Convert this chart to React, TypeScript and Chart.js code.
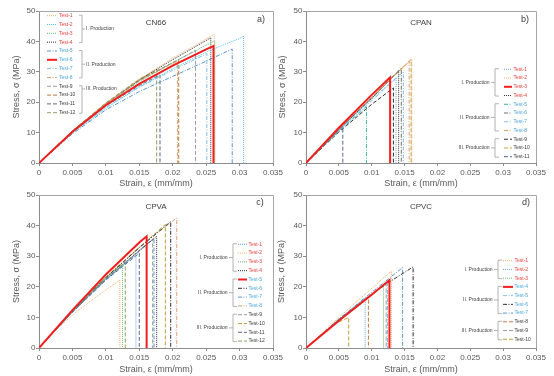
import { useEffect, useRef } from "react";
import { Chart, registerables } from "chart.js";
Chart.register(...registerables);

const FONT = "'Liberation Sans', Arial, sans-serif";

const xTickValues = [0, 0.005, 0.01, 0.015, 0.02, 0.025, 0.03, 0.035];
const xTickLabels = ["0", "0.005", "0.01", "0.015", "0.02", "0.025", "0.03", "0.035"];
const yTickValues = [0, 10, 20, 30, 40, 50];
const yTickLabels = ["0", "10", "20", "30", "40", "50"];
const xAxisTitle = "Strain, ε (mm/mm)";
const yAxisTitle = "Stress, σ (MPa)";

const panelTitles = ["CN66", "CPAN", "CPVA", "CPVC"];
const panelTags = ["a)", "b)", "c)", "d)"];
const groupLabels = ["I. Production", "II. Production", "III. Production"];

// ---------- CN66 ----------
const cn66Tests = ["Test-1", "Test-2", "Test-3", "Test-4", "Test-5", "Test-6", "Test-7", "Test-8", "Test-9", "Test-10", "Test-11", "Test-12"];
const cn66Groups = [4, 4, 4];
const cn66Strain = [
  [0, 0.005, 0.01, 0.015, 0.02, 0.025, 0.0262, 0.0262],
  [0, 0.005, 0.01, 0.015, 0.02, 0.025, 0.03, 0.0306, 0.0306],
  [0, 0.005, 0.01, 0.015, 0.02, 0.025, 0.0263, 0.0263],
  [0, 0.005, 0.01, 0.015, 0.02, 0.025, 0.0257, 0.0257],
  [0, 0.005, 0.01, 0.015, 0.02, 0.025, 0.0289, 0.0289],
  [0, 0.005, 0.01, 0.015, 0.02, 0.025, 0.0261, 0.0261],
  [0, 0.005, 0.01, 0.015, 0.02, 0.0251, 0.0251],
  [0, 0.005, 0.01, 0.015, 0.0207, 0.0207],
  [0, 0.005, 0.01, 0.015, 0.02, 0.0234, 0.0234],
  [0, 0.005, 0.01, 0.015, 0.0209, 0.0209],
  [0, 0.005, 0.01, 0.015, 0.0181, 0.0181],
  [0, 0.005, 0.01, 0.015, 0.0176, 0.0176],
];
const cn66Stress = [
  [0, 10.5, 19.5, 27.5, 34.5, 40.8, 42.3, 0],
  [0, 9.8, 18, 25, 31, 36.5, 41, 41.7, 0],
  [0, 10.4, 19.3, 26.8, 33, 38.8, 40.2, 0],
  [0, 10.5, 19.5, 27.3, 34, 40.3, 41.2, 0],
  [0, 9.6, 17.5, 23.5, 28.5, 33.5, 37.5, 0],
  [0, 10.3, 19, 26, 32, 37.4, 38.5, 0],
  [0, 10, 18.3, 25, 30.5, 36, 0],
  [0, 10.5, 19.6, 27.3, 33.5, 0],
  [0, 10.4, 19.4, 27, 33, 37, 0],
  [0, 10.5, 19.6, 27.4, 34, 0],
  [0, 10.3, 18.8, 25.5, 29, 0],
  [0, 10.6, 19.8, 27.6, 30.8, 0],
];

// ---------- CPAN ----------
const cpanTests = ["Test-1", "Test-2", "Test-3", "Test-4", "Test-5", "Test-6", "Test-7", "Test-8", "Test-9", "Test-10", "Test-11"];
const cpanGroups = [4, 4, 3];
const cpanStrain = [
  [0, 0.005, 0.01, 0.0137, 0.0137],
  [0, 0.005, 0.01, 0.0161, 0.0161],
  [0, 0.005, 0.01, 0.0128, 0.0128],
  [0, 0.005, 0.01, 0.0141, 0.0141],
  [0, 0.005, 0.0092, 0.0092],
  [0, 0.005, 0.01, 0.0145, 0.0145],
  [0, 0.005, 0.01, 0.0148, 0.0148],
  [0, 0.005, 0.01, 0.0157, 0.0157],
  [0, 0.005, 0.01, 0.0133, 0.0133],
  [0, 0.005, 0.01, 0.016, 0.016],
  [0, 0.0056, 0.0056],
];
const cpanStress = [
  [0, 10.9, 21, 28, 0],
  [0, 11.2, 21.7, 34, 0],
  [0, 11.6, 22.4, 28.2, 0],
  [0, 11, 21.3, 30.3, 0],
  [0, 10.5, 18.5, 0],
  [0, 11, 21.4, 31.2, 0],
  [0, 10.6, 20.5, 30, 0],
  [0, 11.2, 21.6, 33.6, 0],
  [0, 10.2, 19.3, 24.7, 0],
  [0, 11.1, 21.5, 34, 0],
  [0, 12, 0],
];

// ---------- CPVA ----------
const cpvaTests = ["Test-1", "Test-2", "Test-3", "Test-4", "Test-5", "Test-6", "Test-7", "Test-8", "Test-9", "Test-10", "Test-11", "Test-12"];
const cpvaGroups = [4, 4, 4];
const cpvaStrain = [
  [0, 0.005, 0.01, 0.0145, 0.0145],
  [0, 0.0025, 0.005, 0.0075, 0.01, 0.0121, 0.0121],
  [0, 0.005, 0.01, 0.0125, 0.0125],
  [0, 0.005, 0.01, 0.015, 0.0176, 0.0176],
  [0, 0.005, 0.01, 0.015, 0.0161, 0.0161],
  [0, 0.005, 0.01, 0.015, 0.0197, 0.0197],
  [0, 0.005, 0.01, 0.015, 0.0172, 0.0172],
  [0, 0.005, 0.01, 0.015, 0.02, 0.0206, 0.0206],
  [0, 0.005, 0.01, 0.015, 0.017, 0.017],
  [0, 0.005, 0.01, 0.015, 0.0189, 0.0189],
  [0, 0.005, 0.01, 0.015, 0.015],
  [0, 0.005, 0.01, 0.0129, 0.0129],
];
const cpvaStress = [
  [0, 11.8, 22.5, 30.4, 0],
  [0, 5.8, 10.8, 15, 19, 22.2, 0],
  [0, 12, 23, 27.3, 0],
  [0, 11.8, 22.5, 31.8, 36.5, 0],
  [0, 12.4, 24, 34.5, 36.5, 0],
  [0, 12, 23, 32.8, 41.3, 0],
  [0, 11.7, 22.3, 31.6, 35.8, 0],
  [0, 12, 23.2, 33, 41.5, 42.5, 0],
  [0, 11.9, 22.6, 32, 35.6, 0],
  [0, 12, 23, 32.8, 40.4, 0],
  [0, 11.7, 22.2, 31, 0],
  [0, 12, 23, 28, 0],
];

// ---------- CPVC ----------
const cpvcTests = ["Test-1", "Test-2", "Test-3", "Test-4", "Test-5", "Test-6", "Test-7", "Test-8", "Test-9", "Test-10"];
const cpvcGroups = [3, 4, 3];
const cpvcStrain = [
  [0, 0.005, 0.01, 0.013, 0.013],
  [0, 0.005, 0.009, 0.009],
  [0, 0.005, 0.01, 0.0118, 0.0118],
  [0, 0.005, 0.01, 0.0127, 0.0127],
  [0, 0.005, 0.01, 0.0124, 0.0124],
  [0, 0.005, 0.01, 0.013, 0.0163, 0.0163],
  [0, 0.005, 0.01, 0.0147, 0.0147],
  [0, 0.005, 0.0095, 0.0095],
  [0, 0.005, 0.01, 0.0122, 0.0122],
  [0, 0.003, 0.0045, 0.0065, 0.0065],
];
const cpvcStress = [
  [0, 10, 19.5, 25.2, 0],
  [0, 9.3, 16.4, 0],
  [0, 9.2, 17.4, 20.3, 0],
  [0, 8.9, 17.4, 22.2, 0],
  [0, 9.2, 17.6, 21.4, 0],
  [0, 9.3, 17.6, 22, 26.5, 0],
  [0, 9.5, 18.2, 26.3, 0],
  [0, 9.4, 16.8, 0],
  [0, 9.3, 17.7, 21.1, 0],
  [0, 5.6, 8, 10, 0],
];

// ---------- styles ----------
const DOT = [1, 1];
const DD = [4, 1.5, 1, 1.5];
const DASH = [4, 2];
type St = { c: string; d: number[]; w: number };
const ST: Record<string, St> = {
  dotOrange: { c: "#F4AD6E", d: DOT, w: 1 },
  dotCyan: { c: "#55C3E6", d: DOT, w: 1 },
  dotGreen: { c: "#62BD6E", d: DOT, w: 1 },
  dotBlack: { c: "#2E2E2E", d: DOT, w: 1 },
  dotBlue: { c: "#64A6DA", d: DOT, w: 1 },
  ddBlue: { c: "#5B93CC", d: DD, w: 1 },
  ddLtBlue: { c: "#86BCE6", d: DD, w: 1 },
  ddTan: { c: "#D2A274", d: DD, w: 1 },
  ddTeal: { c: "#3DB3A3", d: DD, w: 1 },
  ddGray: { c: "#6E6E6E", d: DD, w: 1 },
  ddBlack: { c: "#2E2E2E", d: DD, w: 1 },
  dashGray: { c: "#9A9A9A", d: DASH, w: 1 },
  dashBrown: { c: "#BE7A2C", d: DASH, w: 1 },
  dashGold: { c: "#BFA034", d: DASH, w: 1 },
  dashNavy: { c: "#56698C", d: DASH, w: 1 },
  dashOlive: { c: "#8CA25C", d: DASH, w: 1 },
  dashBlack: { c: "#303030", d: DASH, w: 1 },
  dashOrange: { c: "#C97A44", d: DASH, w: 1 },
  solidRed: { c: "#F21E1E", d: [], w: 2 },
};
const GROUP_TEXT = ["#E4413A", "#4FA7DA", "#3A3A3A"];

type Legend = {
  side: "left" | "right";
  y0: number; dy: number; sx0: number; sx1: number; tx: number; bx: number;
  labelRows?: number[];
};
type Panel = {
  title: string; tag: string; tests: string[]; groups: number[];
  strain: number[][]; stress: number[][]; styles: string[];
  area: { l: number; t: number; r: number; b: number };
  yTitlePad: number; xAxisH: number; titleY: number; tagX: number; tagY: number;
  legend: Legend;
};

const panels: Panel[] = [
  {
    title: panelTitles[0], tag: panelTags[0], tests: cn66Tests, groups: cn66Groups,
    strain: cn66Strain, stress: cn66Stress,
    styles: ["dotOrange", "dotCyan", "dotGreen", "dotBlack", "ddBlue", "solidRed", "ddLtBlue", "ddTan", "dashGray", "dashBrown", "dashNavy", "dashOlive"],
    area: { l: 39, t: 11, r: 273, b: 163 }, yTitlePad: 2.6, xAxisH: 26, titleY: 23, tagX: 261, tagY: 20,
    legend: { side: "left", y0: 15.7, dy: 8.82, sx0: 47, sx1: 57, tx: 59, bx: 82, labelRows: [1.5, 5.5, 8.3] },
  },
  {
    title: panelTitles[1], tag: panelTags[1], tests: cpanTests, groups: cpanGroups,
    strain: cpanStrain, stress: cpanStress,
    styles: ["dotBlue", "dotOrange", "solidRed", "dotBlack", "ddTeal", "ddGray", "ddLtBlue", "ddTan", "dashBlack", "dashGold", "dashNavy"],
    area: { l: 306, t: 11, r: 536, b: 163 }, yTitlePad: 1.6, xAxisH: 26, titleY: 23, tagX: 525, tagY: 20,
    legend: { side: "right", y0: 69.3, dy: 8.74, sx0: 504, sx1: 512, tx: 513.5, bx: 495 },
  },
  {
    title: panelTitles[2], tag: panelTags[2], tests: cpvaTests, groups: cpvaGroups,
    strain: cpvaStrain, stress: cpvaStress,
    styles: ["dotBlue", "dotOrange", "dotGreen", "dotBlack", "solidRed", "ddBlack", "ddBlue", "ddTan", "dashGray", "dashGold", "dashNavy", "dashOlive"],
    area: { l: 39, t: 195, r: 273, b: 348 }, yTitlePad: 2.3, xAxisH: 27, titleY: 207, tagX: 260, tagY: 203,
    legend: { side: "right", y0: 244.3, dy: 8.8, sx0: 238, sx1: 247, tx: 248.5, bx: 233 },
  },
  {
    title: panelTitles[3], tag: panelTags[3], tests: cpvcTests, groups: cpvcGroups,
    strain: cpvcStrain, stress: cpvcStress,
    styles: ["dotOrange", "dotBlue", "dotGreen", "solidRed", "ddLtBlue", "ddBlack", "ddBlue", "dashOrange", "dashGray", "dashGold"],
    area: { l: 306, t: 195, r: 536, b: 348 }, yTitlePad: 0.6, xAxisH: 27, titleY: 207, tagX: 526, tagY: 203,
    legend: { side: "right", y0: 260.7, dy: 8.73, sx0: 503, sx1: 513, tx: 514.5, bx: 498 },
  },
];

const W = 554;
const H = 376;
const Y_AXIS_W = 30;
const AXIS_COLOR = "#8C8C8C";
const TEXT_COLOR = "#595959";

function groupOf(groups: number[], i: number) {
  let acc = 0;
  for (let g = 0; g < groups.length; g++) {
    acc += groups[g];
    if (i < acc) return g;
  }
  return groups.length - 1;
}

function makeConfig(p: Panel): any {
  const datasets = p.tests.map((name, i) => {
    const s = ST[p.styles[i]];
    return {
      label: name,
      data: p.strain[i].map((x, j) => ({ x, y: p.stress[i][j] })),
      borderColor: s.c,
      borderWidth: s.w,
      borderDash: s.d,
      pointRadius: 0,
      pointHoverRadius: 0,
      fill: false,
      tension: 0,
      order: s.w > 1 ? -1 : i,
    };
  });

  const decor = {
    id: "decor" + p.tag,
    afterDraw(chart: any) {
      const ctx: CanvasRenderingContext2D = chart.ctx;
      const a = chart.chartArea;
      ctx.save();
      // frame (top & right)
      ctx.strokeStyle = "#A6A6A6";
      ctx.lineWidth = 1;
      ctx.setLineDash([]);
      ctx.beginPath();
      ctx.moveTo(a.left, Math.round(a.top) + 0.5);
      ctx.lineTo(Math.round(a.right) + 0.5, Math.round(a.top) + 0.5);
      ctx.lineTo(Math.round(a.right) + 0.5, a.bottom);
      ctx.stroke();
      // title and tag
      ctx.fillStyle = "#404040";
      ctx.textBaseline = "middle";
      ctx.textAlign = "center";
      ctx.font = `8px ${FONT}`;
      ctx.fillText(p.title, (a.left + a.right) / 2, p.titleY);
      ctx.font = `9px ${FONT}`;
      ctx.fillText(p.tag, p.tagX, p.tagY);

      // legend
      const L = p.legend;
      const rowY = (i: number) => L.y0 + i * L.dy;
      ctx.font = `5px ${FONT}`;
      ctx.textAlign = "left";
      p.tests.forEach((name, i) => {
        const s = ST[p.styles[i]];
        const y = rowY(i);
        ctx.strokeStyle = s.c;
        ctx.lineWidth = s.w;
        ctx.setLineDash(s.d);
        ctx.beginPath();
        ctx.moveTo(L.sx0, y);
        ctx.lineTo(L.sx1, y);
        ctx.stroke();
        ctx.fillStyle = GROUP_TEXT[groupOf(p.groups, i)];
        ctx.fillText(name, L.tx, y);
      });
      // brackets
      ctx.setLineDash([]);
      ctx.lineWidth = 0.8;
      ctx.strokeStyle = "#A0A0A0";
      let start = 0;
      p.groups.forEach((n, g) => {
        const y1 = rowY(start) - 0.5;
        const y2 = rowY(start + n - 1) + 0.5;
        const ly = L.labelRows ? rowY(L.labelRows[g]) : (rowY(start) + rowY(start + n - 1)) / 2;
        ctx.beginPath();
        if (L.side === "left") {
          ctx.moveTo(L.bx - 3, y1);
          ctx.lineTo(L.bx, y1);
          ctx.lineTo(L.bx, y2);
          ctx.lineTo(L.bx - 3, y2);
          ctx.moveTo(L.bx, ly);
          ctx.lineTo(L.bx + 3, ly);
        } else {
          ctx.moveTo(L.bx + 4, y1);
          ctx.lineTo(L.bx, y1);
          ctx.lineTo(L.bx, y2);
          ctx.lineTo(L.bx + 4, y2);
          ctx.moveTo(L.bx, ly);
          ctx.lineTo(L.bx - 4, ly);
        }
        ctx.stroke();
        ctx.fillStyle = "#404040";
        if (L.side === "left") {
          ctx.textAlign = "left";
          ctx.fillText(groupLabels[g], L.bx + 4, ly);
        } else {
          ctx.textAlign = "right";
          ctx.fillText(groupLabels[g], L.bx - 5.5, ly);
        }
        start += n;
      });
      ctx.restore();
    },
  };

  const padding = {
    left: p.area.l - Y_AXIS_W,
    top: p.area.t,
    right: W - p.area.r,
    bottom: H - p.area.b - p.xAxisH,
  };

  const zeroPad = (s: any) => {
    s.paddingLeft = 0;
    s.paddingRight = 0;
    s.paddingTop = 0;
    s.paddingBottom = 0;
  };

  return {
    type: "line",
    data: { datasets },
    options: {
      responsive: false,
      animation: false,
      events: [],
      layout: { padding },
      plugins: { legend: { display: false }, tooltip: { enabled: false }, title: { display: false } },
      scales: {
        x: {
          type: "linear",
          min: 0,
          max: 0.035,
          afterBuildTicks: (s: any) => {
            s.ticks = xTickValues.map((v) => ({ value: v }));
          },
          afterFit: (s: any) => {
            s.height = p.xAxisH;
            zeroPad(s);
          },
          ticks: {
            autoSkip: false,
            maxRotation: 0,
            padding: 2.2,
            color: TEXT_COLOR,
            font: { family: FONT, size: 8 },
            callback: (_v: any, i: number) => xTickLabels[i],
          },
          grid: { display: true, drawOnChartArea: false, drawTicks: true, tickLength: 3, color: AXIS_COLOR },
          border: { display: true, color: AXIS_COLOR, width: 1 },
          title: {
            display: true,
            text: xAxisTitle,
            color: TEXT_COLOR,
            font: { family: FONT, size: 9 },
            padding: { top: 0, bottom: 0 },
          },
        },
        y: {
          type: "linear",
          min: 0,
          max: 50,
          afterBuildTicks: (s: any) => {
            s.ticks = yTickValues.map((v) => ({ value: v }));
          },
          afterFit: (s: any) => {
            s.width = Y_AXIS_W;
            zeroPad(s);
          },
          ticks: {
            autoSkip: false,
            padding: 0.5,
            color: TEXT_COLOR,
            font: { family: FONT, size: 8 },
            callback: (_v: any, i: number) => yTickLabels[i],
          },
          grid: { display: true, drawOnChartArea: false, drawTicks: true, tickLength: 3, color: AXIS_COLOR },
          border: { display: true, color: AXIS_COLOR, width: 1 },
          title: {
            display: true,
            text: yAxisTitle,
            color: TEXT_COLOR,
            font: { family: FONT, size: 9 },
            padding: { top: p.yTitlePad, bottom: 0 },
          },
        },
      },
    },
    plugins: [decor],
  };
}

function PanelChart({ p }: { p: Panel }) {
  const ref = useRef<HTMLCanvasElement>(null);
  useEffect(() => {
    if (!ref.current) return;
    const chart = new Chart(ref.current, makeConfig(p));
    return () => chart.destroy();
  }, [p]);
  return (
    <canvas
      ref={ref}
      width={W}
      height={H}
      style={{ position: "absolute", left: 0, top: 0, width: W, height: H }}
    />
  );
}

export default function App() {
  return (
    <div style={{ position: "absolute", left: 0, top: 0, width: W, height: H, background: "#fff", overflow: "hidden" }}>
      {panels.map((p) => (
        <PanelChart key={p.tag} p={p} />
      ))}
    </div>
  );
}
